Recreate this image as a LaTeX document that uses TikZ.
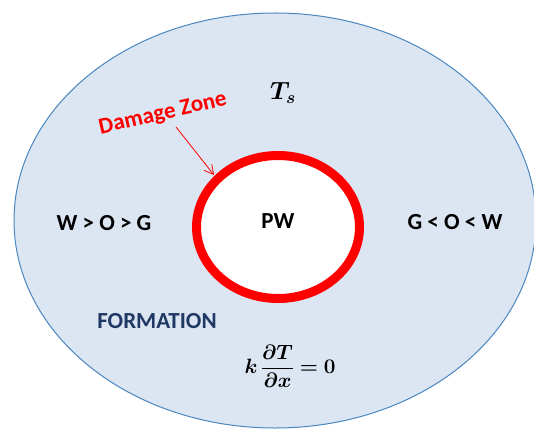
\documentclass[tikz,border=0pt]{standalone}
\usepackage{amsmath}
\usepackage{bm}
\usepackage{fontspec}
\setsansfont{Carlito}
\usetikzlibrary{arrows.meta,shapes.geometric}
\definecolor{fillblue}{HTML}{DCE6F2}
\definecolor{edgeblue}{HTML}{4A86C0}
\definecolor{navy}{HTML}{1F3864}
\definecolor{pwred}{HTML}{FF0000}
\newcommand{\eqtext}{\ensuremath{\displaystyle\bm{k}\,\frac{\bm{\partial}\bm{T}}{\bm{\partial}\bm{x}}\bm{=}\bm{0}}}
\newcommand{\tstext}{\ensuremath{\bm{T}_{\bm{s}}}}
\tikzset{
  lbl/.style={font=\sffamily\bfseries\fontsize{23}{27}\selectfont, text=black, inner sep=0pt},
  zone/.style={ellipse, inner sep=0pt},
  mathlbl/.style={font=\fontsize{21}{25}\selectfont, inner sep=0pt},
}
\begin{document}
\begin{tikzpicture}[x=1pt,y=-1pt]
\useasboundingbox (0,0) rectangle (534,430);
\fill[white] (0,0) rectangle (534,430);
\node[zone, draw=edgeblue, line width=1pt, fill=fillblue, minimum width=522pt, minimum height=415pt] (formation) at (275,220.5) {};
\node[zone, draw=pwred, line width=9pt, fill=white, minimum width=163pt, minimum height=143pt] (pw) at (278,227) {};
\node[lbl] (pwtext) at (278,221) {PW};
\node[lbl] (left) at (104,223) {W > O > G};
\node[lbl] (right) at (455,222) {G < O < W};
\node[lbl, text=navy] (form) at (157,321) {FORMATION};
\node[lbl, text=pwred, rotate=13] (dz) at (163,114) {Damage Zone};
\node[mathlbl, font=\fontsize{23}{27}\selectfont] (ts) at (283,93) {\tstext};
\node[mathlbl] (eq) at (290,366) {\eqtext};
\coordinate (tail) at (176,127);
\coordinate (tip) at (214,175);
\draw[pwred, line width=0.8pt, -{Straight Barb[length=9pt,width=10pt]}] (tail) -- (tip);
\end{tikzpicture}
\end{document}
